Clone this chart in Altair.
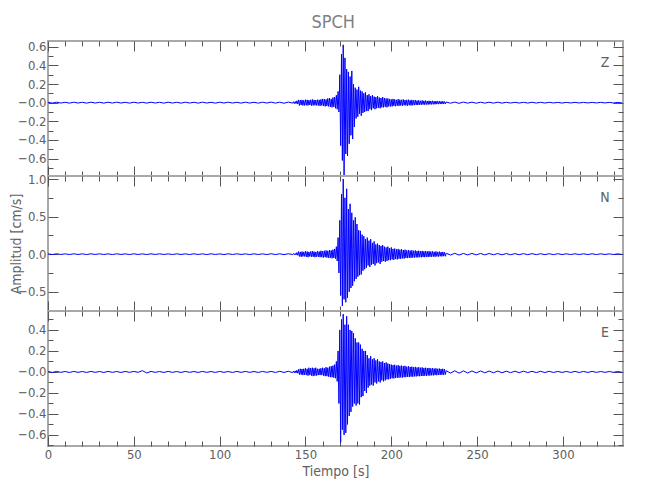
import altair as alt
import pandas as pd

FONT = "Liberation Sans Narrow, DejaVu Sans Condensed, Liberation Sans, sans-serif"
TICK = "#555555"
TXT = "#606060"

# ---- sample bins (start time, s) ----
T_Q1 = list(range(0, 141, 5))     # quiet part, 5 s bins (29)
T_ACT = list(range(143, 232))     # event, 1 s bins (89)
T_Q2 = list(range(232, 333, 5))   # quiet part, 5 s bins (21)

# ---- Z component: max / min per bin (cm/s) ----
Z_HI = ([.004, .005, .004, .005, .004, .005, .004, .005, .005, .004,
         .005, .004, .005, .004, .005, .004, .005, .004, .005, .004,
         .005, .005, .004, .005, .004, .005, .006, .005, .006] +
        [.010, .012, .020, .030, .028, .030, .025, .032, .030, .027,
         .030, .035, .030, .028, .032, .030, .035, .040, .038, .035,
         .045, .050, .040, .055, .060, .080, .120, .300, .520, .620,
         .480, .360, .330, .280, .340, .200, .160, .140, .170, .130,
         .120, .100, .110, .080, .090, .070, .080, .065, .060, .070,
         .055, .050, .060, .050, .045, .045, .040, .035, .040, .035,
         .030, .038, .032, .030, .035, .028, .030, .032, .026, .030,
         .025, .028, .022, .025, .020, .024, .020, .022, .018, .020,
         .018, .020, .016, .018, .015, .017, .014, .015, .013] +
        [.007, .006, .006, .005, .005, .005, .005, .004, .004, .004,
         .004, .004, .004, .003, .003, .003, .003, .003, .003, .003, .003])
Z_LO = ([-.005, -.004, -.005, -.004, -.005, -.004, -.005, -.004, -.004, -.005,
         -.004, -.005, -.004, -.005, -.004, -.005, -.004, -.005, -.004, -.005,
         -.004, -.004, -.005, -.004, -.005, -.004, -.005, -.006, -.005] +
        [-.010, -.010, -.015, -.030, -.025, -.030, -.030, -.028, -.030, -.025,
         -.032, -.030, -.028, -.030, -.030, -.035, -.030, -.035, -.040, -.035,
         -.040, -.045, -.050, -.045, -.060, -.070, -.100, -.460, -.620, -.780,
         -.550, -.570, -.440, -.350, -.390, -.260, -.170, -.150, -.120, -.140,
         -.110, -.100, -.090, -.090, -.070, -.080, -.060, -.070, -.060, -.055,
         -.060, -.050, -.050, -.045, -.050, -.040, -.040, -.040, -.035, -.038,
         -.032, -.035, -.030, -.033, -.028, -.030, -.032, -.027, -.030, -.028,
         -.026, -.024, -.025, -.022, -.023, -.020, -.022, -.019, -.020, -.018,
         -.019, -.017, -.018, -.015, -.016, -.014, -.015, -.013, -.014] +
        [-.006, -.007, -.005, -.006, -.005, -.005, -.005, -.004, -.004, -.004,
         -.004, -.004, -.003, -.004, -.003, -.003, -.003, -.003, -.003, -.003, -.003])

# ---- N component ----
N_HI = ([.004, .005, .004, .005, .004, .005, .005, .004, .005, .004,
         .005, .004, .005, .005, .004, .005, .004, .005, .004, .005,
         .004, .005, .005, .004, .005, .004, .006, .005, .006] +
        [.008, .010, .020, .035, .030, .035, .030, .040, .035, .030,
         .035, .040, .035, .030, .040, .035, .045, .040, .045, .050,
         .045, .055, .050, .060, .070, .100, .220, .450, .800, 1.00,
         .750, .870, .600, .670, .550, .450, .490, .400, .320, .310,
         .260, .240, .200, .220, .180, .200, .150, .170, .130, .140,
         .120, .110, .120, .100, .090, .100, .080, .090, .070, .075,
         .065, .070, .060, .065, .055, .060, .050, .055, .048, .052,
         .045, .050, .042, .046, .040, .044, .038, .042, .036, .040,
         .035, .038, .032, .036, .030, .034, .028, .030, .026] +
        [.012, .011, .010, .010, .009, .009, .008, .008, .007, .007,
         .007, .006, .006, .006, .005, .005, .005, .005, .005, .004, .004])
N_LO = ([-.005, -.004, -.005, -.004, -.005, -.004, -.004, -.005, -.004, -.005,
         -.004, -.005, -.004, -.004, -.005, -.004, -.005, -.004, -.005, -.004,
         -.005, -.004, -.004, -.005, -.004, -.005, -.005, -.006, -.005] +
        [-.008, -.010, -.015, -.030, -.035, -.030, -.030, -.035, -.040, -.030,
         -.035, -.035, -.040, -.035, -.035, -.040, -.040, -.045, -.040, -.045,
         -.050, -.050, -.055, -.050, -.060, -.090, -.250, -.550, -.690, -.600,
         -.640, -.580, -.500, -.450, -.420, -.360, -.330, -.300, -.280, -.270,
         -.220, -.200, -.180, -.150, -.170, -.140, -.130, -.150, -.120, -.110,
         -.130, -.100, -.090, -.100, -.090, -.080, -.080, -.070, -.075, -.065,
         -.070, -.060, -.062, -.055, -.058, -.050, -.052, -.048, -.050, -.045,
         -.046, -.042, -.044, -.040, -.042, -.038, -.040, -.036, -.038, -.034,
         -.036, -.032, -.034, -.030, -.032, -.028, -.030, -.026, -.028] +
        [-.011, -.012, -.010, -.009, -.009, -.008, -.008, -.008, -.007, -.007,
         -.006, -.006, -.006, -.005, -.005, -.005, -.005, -.005, -.004, -.004, -.004])

# ---- E component ----
E_HI = ([.004, .005, .004, .005, .004, .005, .004, .005, .004, .005,
         .005, .012, .005, .004, .005, .004, .005, .004, .005, .004,
         .005, .004, .005, .005, .004, .005, .005, .006, .006] +
        [.008, .010, .015, .025, .030, .028, .030, .035, .030, .040,
         .035, .040, .035, .040, .030, .030, .035, .040, .035, .045,
         .040, .050, .055, .060, .070, .100, .200, .400, .500, .550,
         .450, .530, .450, .400, .390, .370, .320, .280, .280, .260,
         .220, .200, .200, .160, .130, .150, .120, .130, .110, .120,
         .100, .095, .100, .085, .090, .080, .075, .070, .065, .068,
         .060, .064, .058, .060, .055, .058, .050, .054, .048, .050,
         .045, .048, .042, .045, .040, .043, .038, .040, .036, .038,
         .034, .036, .032, .034, .030, .032, .028, .030, .026] +
        [.012, .011, .010, .009, .009, .008, .008, .007, .007, .007,
         .006, .006, .006, .005, .005, .005, .005, .005, .004, .004, .004])
E_LO = ([-.005, -.004, -.005, -.004, -.005, -.004, -.005, -.004, -.005, -.004,
         -.004, -.010, -.004, -.005, -.004, -.005, -.004, -.005, -.004, -.005,
         -.004, -.005, -.004, -.004, -.005, -.004, -.005, -.005, -.006] +
        [-.008, -.010, -.012, -.025, -.025, -.030, -.028, -.030, -.035, -.030,
         -.035, -.040, -.035, -.035, -.030, -.030, -.030, -.035, -.040, -.040,
         -.045, -.050, -.050, -.055, -.060, -.090, -.300, -.670, -.550, -.600,
         -.580, -.500, -.420, -.380, -.330, -.300, -.320, -.300, -.310, -.240,
         -.230, -.180, -.200, -.150, -.130, -.120, -.130, -.100, -.110, -.090,
         -.100, -.080, -.090, -.080, -.070, -.070, -.065, -.060, -.062, -.058,
         -.056, -.055, -.052, -.054, -.050, -.050, -.046, -.048, -.044, -.046,
         -.042, -.043, -.040, -.041, -.038, -.039, -.036, -.037, -.034, -.035,
         -.032, -.033, -.030, -.031, -.028, -.029, -.027, -.028, -.025] +
        [-.011, -.012, -.010, -.009, -.008, -.008, -.008, -.007, -.007, -.006,
         -.006, -.006, -.005, -.005, -.005, -.005, -.005, -.004, -.004, -.004, -.004])

# ---- axes ----
X_DOMAIN = [0, 335]
X_MAJOR = [0, 50, 100, 150, 200, 250, 300]
X_MINOR = [10, 20, 30, 40, 60, 70, 80, 90, 110, 120, 130, 140, 160, 170, 180, 190,
           210, 220, 230, 240, 260, 270, 280, 290, 310, 320, 330]

Z_DOMAIN = [-0.786, 0.661]
Z_MAJOR = [-0.6, -0.4, -0.2, 0.0, 0.2, 0.4, 0.6]
Z_MINOR = [-0.7, -0.5, -0.3, -0.1, 0.1, 0.3, 0.5]
N_DOMAIN = [-0.756, 1.04]
N_MAJOR = [-0.5, 0.0, 0.5, 1.0]
N_MINOR = [-0.75, -0.25, 0.25, 0.75]
E_DOMAIN = [-0.705, 0.58]
E_MAJOR = [-0.6, -0.4, -0.2, 0.0, 0.2, 0.4]
E_MINOR = [-0.7, -0.5, -0.3, -0.1, 0.1, 0.3, 0.5]

W, H = 575, 135
DOT = pd.DataFrame({"t": [0.0], "v": [0.0]})


def build_df(hi, lo):
    bins = [(t, 5) for t in T_Q1] + [(t, 1) for t in T_ACT] + [(t, 5) for t in T_Q2]
    ts, vs = [], []
    for (t0, w), h, l in zip(bins, hi, lo):
        ts += [t0, t0 + w / 2]
        vs += [h, l]
    return pd.DataFrame({"t": ts, "v": vs})


def tick_axis(orient, values, size):
    return alt.Axis(orient=orient, values=values, tickSize=size, offset=-size,
                    labels=False, domain=False, grid=False, title=None,
                    ticks=True, tickColor=TICK, tickWidth=1)


def panel(hi, lo, ydom, ymaj, ymin, letter, zero_minus, bottom, ytitle):
    xs = alt.Scale(domain=X_DOMAIN, nice=False, zero=False)
    ys = alt.Scale(domain=ydom, nice=False, zero=False)
    if zero_minus:
        lexpr = "datum.value == 0 ? '\u22120.0' : format(datum.value, '.1f')"
    else:
        lexpr = "format(datum.value, '.1f')"
    yargs = dict(orient="left", values=ymaj, ticks=False, domain=False, grid=False,
                 labelExpr=lexpr, labelPadding=2, labelFlush=False, labelOverlap=False)
    if ytitle:
        yargs.update(title=ytitle, titleX=-32, titleY=H / 2, titleBaseline="middle",
                     titleAlign="center", titleAngle=270)
    else:
        yargs.update(title=None)
    yaxis = alt.Axis(**yargs)
    if bottom:
        xaxis = alt.Axis(orient="bottom", values=X_MAJOR, ticks=False, domain=False,
                         grid=False, format="d", title="Tiempo [s]", labelPadding=2,
                         titlePadding=3, labelFlush=False)
        xenc = alt.X("t:Q", scale=xs, axis=xaxis)
    else:
        xenc = alt.X("t:Q", scale=xs, axis=None)

    line = alt.Chart(build_df(hi, lo)).mark_line(
        color="#0000ff", strokeWidth=1.0, clip=True
    ).encode(x=xenc, y=alt.Y("v:Q", scale=ys, axis=yaxis))

    def tl(xo, xv, xsz, yo, yv, ysz):
        return alt.Chart(DOT).mark_point(opacity=0).encode(
            x=alt.X("t:Q", scale=xs, axis=tick_axis(xo, xv, xsz)),
            y=alt.Y("v:Q", scale=ys, axis=tick_axis(yo, yv, ysz)),
        )

    t1 = tl("top", X_MAJOR, 10, "left", ymaj, 10)
    t2 = tl("top", X_MINOR, 5, "left", ymin, 5)
    t3 = tl("bottom", X_MAJOR, 10, "right", ymaj, 10)
    t4 = tl("bottom", X_MINOR, 5, "right", ymin, 5)
    lab = alt.Chart(DOT).mark_text(
        font=FONT, fontSize=14, color=TXT, align="center", baseline="middle"
    ).encode(x=alt.value(557), y=alt.value(22), text=alt.value(letter))

    return alt.layer(line, t1, t2, t3, t4, lab).resolve_axis(
        x="independent", y="independent"
    ).properties(width=W, height=H)


pz = panel(Z_HI, Z_LO, Z_DOMAIN, Z_MAJOR, Z_MINOR, "Z", True, False, None)
pn = panel(N_HI, N_LO, N_DOMAIN, N_MAJOR, N_MINOR, "N", False, False, "Amplitud [cm/s]")
pe = panel(E_HI, E_LO, E_DOMAIN, E_MAJOR, E_MINOR, "E", True, True, None)

chart = alt.vconcat(pz, pn, pe, spacing=0, bounds="flush").properties(
    title=alt.TitleParams("SPCH", font=FONT, fontSize=18, color="#808080",
                          fontWeight="normal", anchor="middle", offset=8, dx=17),
    padding={"left": 0, "top": 5, "right": 5, "bottom": 5},
).configure_view(
    stroke="#a8a8a8", strokeWidth=2
).configure_axis(
    labelFont=FONT, titleFont=FONT, labelFontSize=13, titleFontSize=14,
    labelColor=TXT, titleColor=TXT, titleFontWeight="normal"
)

chart.save("out.html", embed_options={"renderer": "svg", "actions": False})
